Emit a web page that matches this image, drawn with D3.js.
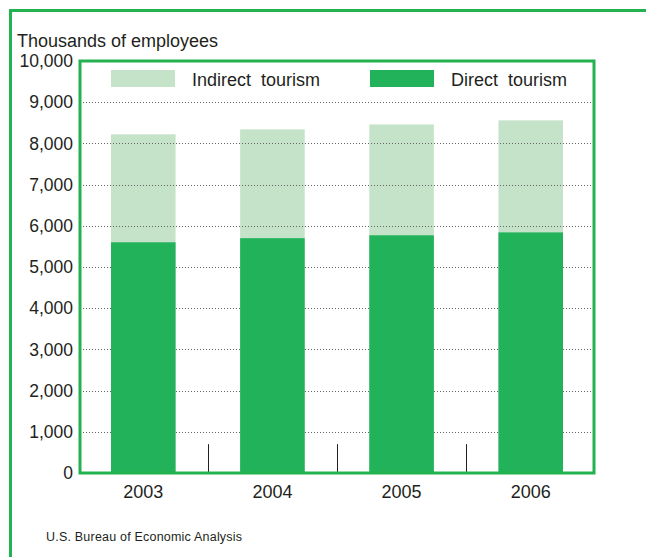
<!DOCTYPE html>
<html><head><meta charset="utf-8">
<script src="https://cdn.jsdelivr.net/npm/d3@7"></script>
<style>html,body{margin:0;padding:0;background:#fff}</style>
</head><body>
<svg id="c" width="646" height="557"></svg>
<script>
const years = ["2003","2004","2005","2006"];
const direct = [5600, 5700, 5770, 5840];
const indirect = [2620, 2640, 2690, 2720];
const yTicks = [0,1000,2000,3000,4000,5000,6000,7000,8000,9000,10000];
const seriesNames = ["Indirect  tourism","Direct  tourism"];

const GREEN = "#22b25a", LIGHT = "#c4e3c8", FRAME = "#23b24f";
const font = "'Liberation Sans', Arial, Helvetica, sans-serif";
const svg = d3.select("#c");
const L = 80, R = 594, T = 61, B = 473;

const x = d3.scaleBand().domain(years).range([L, R]).paddingInner(0.5).paddingOuter(0.24);
const y = d3.scaleLinear().domain([0, 10000]).range([B, T]);

// outer frame
svg.append("path").attr("d", `M10.5,557 V10.5 H646`).attr("fill","none").attr("stroke",FRAME).attr("stroke-width",3);

// title
svg.append("text").attr("x",17).attr("y",47).attr("font-family",font).attr("font-size",18).attr("fill","#231f20").text("Thousands of employees");

// light bars (total)
svg.append("g").selectAll("rect").data(years).join("rect")
  .attr("x", d => x(d)).attr("width", x.bandwidth())
  .attr("y", (d,i) => y(direct[i] + indirect[i]))
  .attr("height", (d,i) => y(0) - y(direct[i] + indirect[i]))
  .attr("fill", LIGHT);

// gridlines
svg.append("g").selectAll("line").data(yTicks.filter(v => v > 0 && v < 10000)).join("line")
  .attr("x1", L).attr("x2", R).attr("y1", d => Math.round(y(d)) + 0.5).attr("y2", d => Math.round(y(d)) + 0.5)
  .attr("stroke", "#666").attr("stroke-width", 1).attr("stroke-dasharray", "1,2");

// direct bars
svg.append("g").selectAll("rect").data(years).join("rect")
  .attr("x", d => x(d)).attr("width", x.bandwidth())
  .attr("y", (d,i) => y(direct[i]))
  .attr("height", (d,i) => y(0) - y(direct[i]))
  .attr("fill", GREEN);

// dividers between categories
const step = x.step();
svg.append("g").selectAll("line").data(years.slice(1)).join("line")
  .attr("x1", d => Math.round(x(d) - (step - x.bandwidth())/2) + 0.5)
  .attr("x2", d => Math.round(x(d) - (step - x.bandwidth())/2) + 0.5)
  .attr("y1", y(700)).attr("y2", B)
  .attr("stroke", "#231f20").attr("stroke-width", 1);

// inner frame
svg.append("rect").attr("x", L).attr("y", T).attr("width", R - L).attr("height", B - T)
  .attr("fill","none").attr("stroke",FRAME).attr("stroke-width",3);

// y axis labels
const yAxis = d3.axisLeft(y).tickValues(yTicks).tickSize(0).tickPadding(7).tickFormat(d3.format(","));
const ya = svg.append("g").attr("transform", `translate(${L},0)`).call(yAxis);
ya.select(".domain").remove();
ya.selectAll("text").attr("font-family",font).attr("font-size",17.5).attr("fill","#231f20");

// x axis labels
const xAxis = d3.axisBottom(x).tickSize(0).tickPadding(12);
const xa = svg.append("g").attr("transform", `translate(0,${B})`).call(xAxis);
xa.select(".domain").remove();
xa.selectAll("text").attr("font-family",font).attr("font-size",18).attr("fill","#231f20");

// legend
const leg = [{name: seriesNames[0], c: LIGHT, x: 111}, {name: seriesNames[1], c: GREEN, x: 370}];
const lg = svg.append("g").selectAll("g").data(leg).join("g").attr("transform", d => `translate(${d.x},70)`);
lg.append("rect").attr("width", 64).attr("height", 17).attr("fill", d => d.c);
lg.append("text").attr("x", 81).attr("y", 15.5).attr("font-family",font).attr("font-size",18).attr("fill","#231f20")
  .attr("xml:space","preserve").style("white-space","pre").text(d => d.name);

// source
svg.append("text").attr("x",46).attr("y",541).attr("font-family",font).attr("font-size",12.5).attr("fill","#231f20")
  .attr("textLength",196).text("U.S. Bureau of Economic Analysis");
</script>
</body></html>
